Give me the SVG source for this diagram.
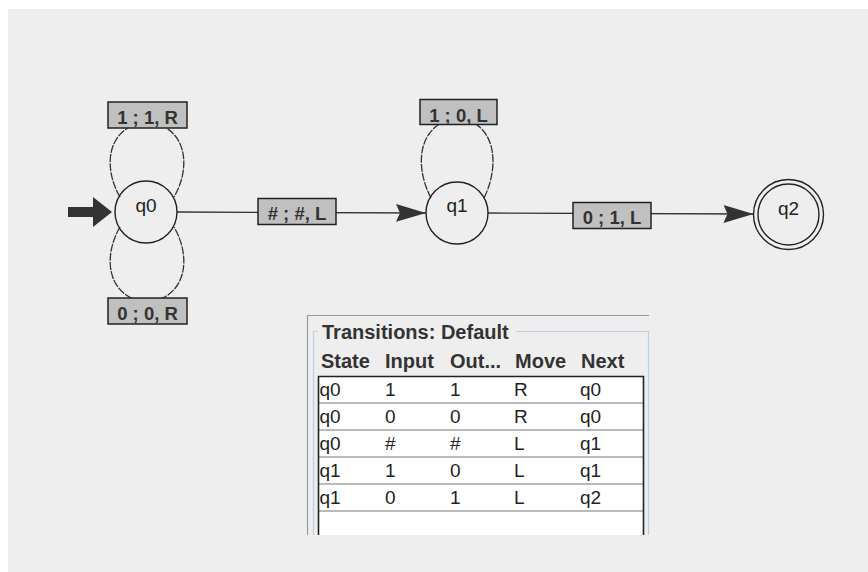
<svg xmlns="http://www.w3.org/2000/svg" width="868" height="572" viewBox="0 0 868 572">
  <defs>
    <style>
      .panel { fill: #eeeeee; }
      .state-ring { fill: none; stroke: #222; stroke-width: 1.4; }
      .state-name { font-family: "Liberation Sans", Arial, sans-serif; font-size: 19px; fill: #222; text-anchor: middle; }
      .edge { fill: none; stroke: #333; stroke-width: 1.3; }
      .loop { fill: none; stroke: #333; stroke-width: 1.3; stroke-dasharray: 8 1.2; }
      .lbl-box { fill: #c0c0c0; stroke: #222; stroke-width: 1.5; }
      .lbl-text { font-family: "Liberation Sans", Arial, sans-serif; font-size: 18.5px; font-weight: bold; fill: #333; text-anchor: middle; }
      .start { fill: #333; }
      .tbl-title { font-family: "Liberation Sans", Arial, sans-serif; font-size: 20px; font-weight: bold; fill: #333; }
      .tbl-head { font-family: "Liberation Sans", Arial, sans-serif; font-size: 20px; font-weight: bold; fill: #333; }
      .tbl-cell { font-family: "Liberation Sans", Arial, sans-serif; font-size: 19px; fill: #222; }
      .grid { stroke: #777; stroke-width: 1.2; }
    </style>
    <marker id="head" viewBox="0 0 30 20" markerWidth="30" markerHeight="20" refX="30" refY="10" orient="auto" markerUnits="userSpaceOnUse">
      <path d="M0,1 L30,10 L0,19 L4,10 Z" fill="#333"/>
    </marker>
  </defs>

  <!-- canvas -->
  <rect width="868" height="572" fill="#ffffff"/>
  <rect class="panel" x="8" y="9" width="860" height="563"/>

  <!-- connectors -->
  <g id="connectors">
    <!-- q0 -> q1 -->
    <line class="edge" x1="177" y1="212" x2="426" y2="213" marker-end="url(#head)"/>
    <!-- q1 -> q2 -->
    <line class="edge" x1="488" y1="213" x2="753.5" y2="214" marker-end="url(#head)"/>
    <!-- self loops -->
    <path class="loop" d="M120,197 C104,170 104,128 147,121 C190,128 190,170 174,197"/>
    <path class="loop" d="M120,227 C104,254 104,296 147,303 C190,296 190,254 174,227"/>
    <path class="loop" d="M431,198 C416,170 414,125 458,117 C500,125 498,170 484,198"/>

    <!-- transition labels -->
    <g id="lbl-q0-q0-top">
      <rect class="lbl-box" x="108" y="102" width="79" height="26"/>
      <text class="lbl-text" x="147.5" y="123.5">1 ; 1, R</text>
    </g>
    <g id="lbl-q0-q0-bottom">
      <rect class="lbl-box" x="108" y="298" width="79" height="26"/>
      <text class="lbl-text" x="147.5" y="319.5">0 ; 0, R</text>
    </g>
    <g id="lbl-q0-q1">
      <rect class="lbl-box" x="258" y="198.5" width="78" height="26"/>
      <text class="lbl-text" x="297" y="220"># ; #, L</text>
    </g>
    <g id="lbl-q1-q1">
      <rect class="lbl-box" x="420" y="99.5" width="77" height="25"/>
      <text class="lbl-text" x="458.5" y="121.5">1 ; 0, L</text>
    </g>
    <g id="lbl-q1-q2">
      <rect class="lbl-box" x="573" y="202.5" width="78" height="26"/>
      <text class="lbl-text" x="612" y="224">0 ; 1, L</text>
    </g>
  </g>

  <!-- start marker -->
  <path class="start" d="M68,207 H93 V197 L112,212 L93,227 V217 H68 Z"/>

  <!-- states -->
  <g id="q0">
    <circle class="state-ring" cx="146" cy="212" r="31"/>
    <text class="state-name" x="146" y="212">q0</text>
  </g>
  <g id="q1">
    <circle class="state-ring" cx="457" cy="213" r="31"/>
    <text class="state-name" x="457" y="212">q1</text>
  </g>
  <g id="q2">
    <circle class="state-ring" cx="788.5" cy="214.5" r="35"/>
    <circle class="state-ring" cx="788.5" cy="214.5" r="30.5"/>
    <text class="state-name" x="788.5" y="215">q2</text>
  </g>

  <!-- transition table panel -->
  <g id="transitions-table">
    <path d="M307.5,535 V315.5 H649" fill="none" stroke="#9a9a9a" stroke-width="1.2"/>
    <path d="M318,331.5 H313.5 V535 M516,331.5 H648.5 V535" fill="none" stroke="#b8cfe5" stroke-width="1.2"/>
    <text class="tbl-title" x="322" y="339">Transitions: Default</text>

    <g class="tbl-head">
      <text x="321" y="368">State</text>
      <text x="385" y="368">Input</text>
      <text x="450" y="368">Out...</text>
      <text x="515" y="368">Move</text>
      <text x="581" y="368">Next</text>
    </g>

    <rect x="318" y="376" width="326" height="159" fill="#ffffff"/>
    <g class="grid">
      <line x1="318" y1="403" x2="644" y2="403"/>
      <line x1="318" y1="430" x2="644" y2="430"/>
      <line x1="318" y1="457" x2="644" y2="457"/>
      <line x1="318" y1="484" x2="644" y2="484"/>
      <line x1="318" y1="511" x2="644" y2="511"/>
    </g>
    <path d="M318.5,535 V376.5 H643.5 V535" fill="none" stroke="#222" stroke-width="1.6"/>

    <g class="tbl-cell">
      <text x="319.5" y="396">q0</text><text x="385" y="396">1</text><text x="450" y="396">1</text><text x="514" y="396">R</text><text x="580" y="396">q0</text>
      <text x="319.5" y="423">q0</text><text x="385" y="423">0</text><text x="450" y="423">0</text><text x="514" y="423">R</text><text x="580" y="423">q0</text>
      <text x="319.5" y="450">q0</text><text x="385" y="450">#</text><text x="450" y="450">#</text><text x="514" y="450">L</text><text x="580" y="450">q1</text>
      <text x="319.5" y="477">q1</text><text x="385" y="477">1</text><text x="450" y="477">0</text><text x="514" y="477">L</text><text x="580" y="477">q1</text>
      <text x="319.5" y="504">q1</text><text x="385" y="504">0</text><text x="450" y="504">1</text><text x="514" y="504">L</text><text x="580" y="504">q2</text>
    </g>
  </g>
</svg>
